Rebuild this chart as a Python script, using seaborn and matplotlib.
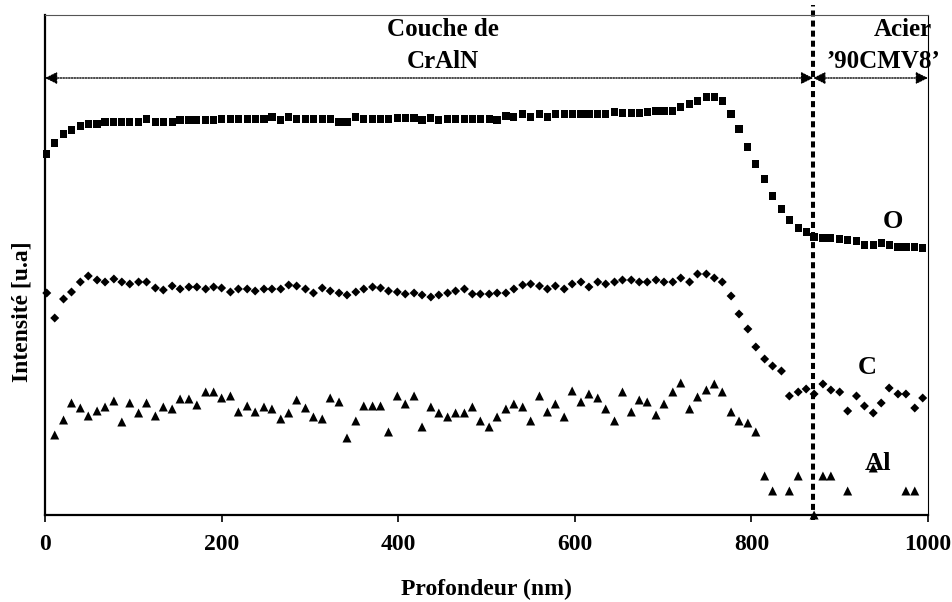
import numpy as np
import pandas as pd
import seaborn as sns
import matplotlib.pyplot as plt

# profondeur (nm) des points de mesure
profondeur = [2, 11, 21, 30, 40, 49, 59, 68, 78, 87,
              96, 106, 115, 125, 134, 144, 153, 163, 172, 182,
              191, 200, 210, 219, 229, 238, 248, 257, 267, 276,
              285, 295, 304, 314, 323, 333, 342, 352, 361, 371,
              380, 389, 399, 408, 418, 427, 437, 446, 456, 465,
              475, 484, 493, 503, 512, 522, 531, 541, 550, 560,
              569, 578, 588, 597, 607, 616, 626, 635, 645, 654,
              664, 673, 682, 692, 701, 711, 720, 730, 739, 749,
              758, 767, 777, 786, 796, 805, 815, 824, 834, 843,
              853, 862, 871, 881, 890, 900, 909, 919, 928, 938,
              947, 956, 966, 975, 985, 994]

# intensites (u.a)
oxygene = [361, 372, 381, 385, 389, 391, 391, 393, 393, 393,
           393, 393, 396, 393, 393, 393, 395, 395, 395, 395,
           395, 396, 396, 396, 396, 396, 396, 398, 395, 398,
           396, 396, 396, 396, 396, 393, 393, 398, 396, 396,
           396, 396, 397, 397, 397, 395, 397, 395, 396, 396,
           396, 396, 396, 396, 395, 399, 398, 401, 398, 401,
           398, 401, 401, 401, 401, 401, 401, 401, 403, 402,
           402, 402, 403, 404, 404, 404, 408, 411, 414, 418,
           418, 414, 401, 386, 368, 351, 336, 319, 306, 295,
           287, 283, 278, 277, 277, 276, 275, 274, 270, 270,
           272, 270, 268, 268, 268, 267]

carbone = [222, 197, 216, 223, 233, 239, 235, 233, 236, 233,
           231, 233, 233, 227, 225, 229, 226, 228, 228, 226,
           228, 227, 223, 226, 226, 224, 226, 226, 226, 230,
           229, 226, 222, 227, 224, 222, 220, 223, 226, 228,
           227, 224, 223, 221, 222, 220, 218, 220, 222, 224,
           226, 221, 221, 221, 222, 222, 226, 230, 231, 229,
           226, 229, 226, 231, 233, 228, 233, 231, 233, 235,
           235, 233, 233, 235, 233, 233, 237, 233, 241, 241,
           237, 233, 219, 201, 186, 168, 156, 149, 144, 119,
           123, 126, 121, 131, 125, 123, 104, 119, 109, 102,
           112, 127, 121, 121, 107, 117]

nan = np.nan
aluminium = [nan, 80, 95, 112, 107, 99, 104, 108, 114, 93,
             112, 102, 112, 99, 108, 106, 116, 116, 110, 123,
             123, 117, 119, 103, 109, 103, 108, 106, 96, 102,
             115, 107, 98, 96, 117, 113, 77, 94, 109, 109,
             109, 83, 119, 111, 119, 88, 108, 102, 98, 102,
             102, 108, 94, 88, 98, 106, 111, 108, 94, 119,
             103, 111, 98, 124, 113, 121, 117, 106, 94, 123,
             103, 115, 113, 100, 111, 123, 132, 106, 118, 125,
             131, 123, 103, 94, 92, 83, 39, 24, nan, 24,
             39, nan, 0, 39, 39, nan, 24, nan, nan, 47,
             nan, nan, nan, 24, 24, nan]

interface = 870

df = pd.DataFrame({"profondeur": profondeur, "O": oxygene,
                   "C": carbone, "Al": aluminium})

sns.set_style("white")
plt.rcParams['font.family'] = ['Liberation Serif', 'DejaVu Serif']
plt.rcParams['font.weight'] = 'bold'
plt.rcParams['text.color'] = 'black'
plt.rcParams['axes.labelcolor'] = 'black'
plt.rcParams['xtick.color'] = 'black'

fig = plt.figure(figsize=(9.53, 6.02), dpi=100)
ax = fig.add_axes([45/953, 1 - 515/602, 883/953, 500/602])

sns.scatterplot(data=df, x="profondeur", y="O", marker="s", s=27,
                color="black", edgecolor="none", ax=ax)
sns.scatterplot(data=df, x="profondeur", y="C", marker="D", s=21,
                color="black", edgecolor="none", ax=ax)
sns.scatterplot(data=df, x="profondeur", y="Al", marker="^", s=42,
                color="black", edgecolor="none", ax=ax)
for c in ax.collections:
    c.set_clip_on(False)

ax.set_xlim(0, 1000)
ax.set_ylim(0, 500)
ax.set_xticks([0, 200, 400, 600, 800, 1000])
ax.set_yticks([])
ax.tick_params(axis='x', direction='out', length=5, width=1.2, pad=9,
               labelsize=17, bottom=True, colors='black')

for s in ["left", "bottom"]:
    ax.spines[s].set_linewidth(1.6)
    ax.spines[s].set_color("black")
ax.spines["top"].set_linewidth(0.8)
ax.spines["top"].set_color("#555555")
ax.spines["right"].set_linewidth(0.8)
ax.spines["right"].set_color("black")

ax.set_xlabel("Profondeur (nm)", fontsize=17, fontweight='bold', labelpad=17)
ax.set_ylabel("Intensité [u.a]", fontsize=17, fontweight='bold')
ax.yaxis.set_label_coords(-0.014, 0.406)

# ligne d'interface
ax.plot([interface, interface], [-5, 510], color="black", lw=2.9,
        linestyle=(0, (1.5, 1.0)), clip_on=False)

# fleches couche / acier
for x0, x1 in [(0, interface), (interface, 1000)]:
    ax.annotate("", xy=(x0, 437), xytext=(x1, 437),
                arrowprops=dict(arrowstyle="<|-|>", color="black", lw=1,
                                linestyle=(0, (1, 1)), mutation_scale=18,
                                shrinkA=0, shrinkB=0))

ax.text(451, 485, "Couche de", ha="center", va="center", fontsize=18)
ax.text(451, 453, "CrAlN", ha="center", va="center", fontsize=18)
ax.text(972, 485, "Acier", ha="center", va="center", fontsize=18)
ax.text(949, 453, "’90CMV8’", ha="center", va="center", fontsize=18)

ax.text(960, 293, "O", ha="center", va="center", fontsize=19)
ax.text(931, 148, "C", ha="center", va="center", fontsize=19)
ax.text(943, 52, "Al", ha="center", va="center", fontsize=19)

fig.savefig("out.png", dpi=100)
